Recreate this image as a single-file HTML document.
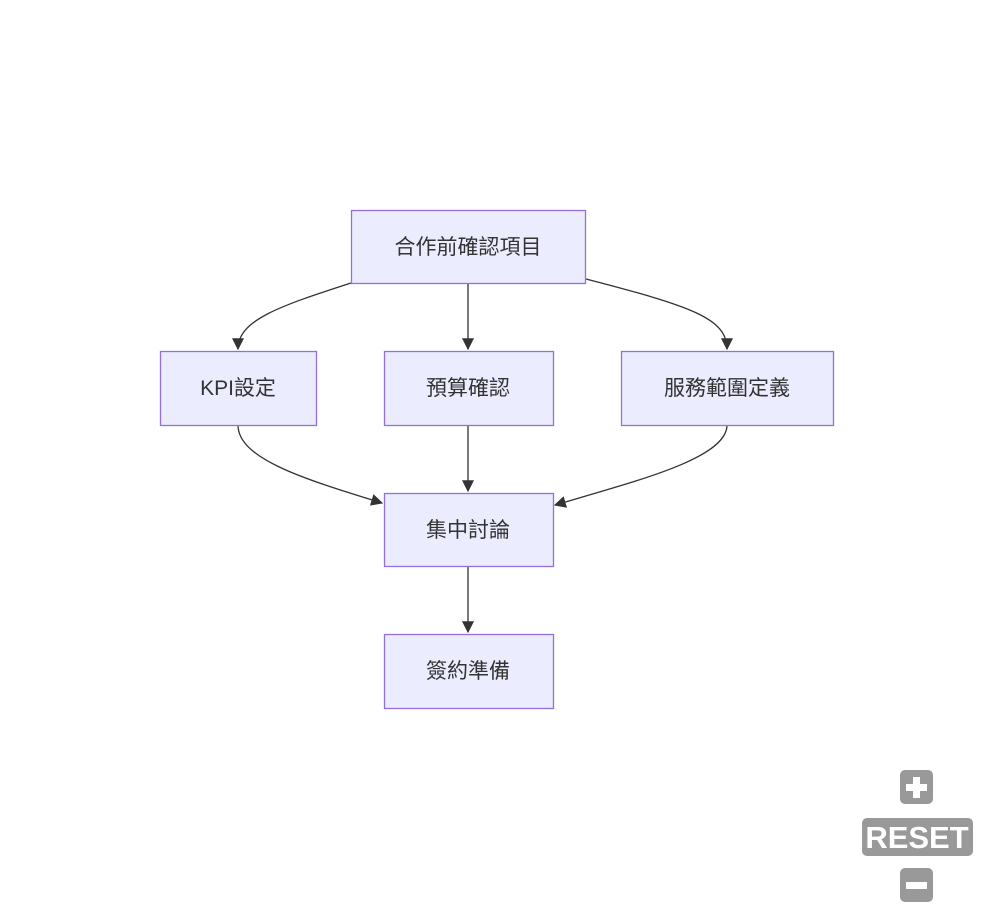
<!DOCTYPE html>
<html><head><meta charset="utf-8"><style>
html,body{margin:0;padding:0;background:#fff;width:994px;height:920px;overflow:hidden}
svg text{font-family:"Liberation Sans","Noto Sans CJK TC",sans-serif;font-size:21px;fill:#333}
</style></head><body>
<svg width="994" height="920" viewBox="0 0 994 920" xmlns="http://www.w3.org/2000/svg">
<defs><marker id="a" viewBox="0 0 10 10" refX="9" refY="5" markerWidth="12" markerHeight="12" markerUnits="userSpaceOnUse" orient="auto"><path d="M0,0L10,5L0,10z" fill="#333"/></marker></defs>
<g fill="none" stroke="#333" stroke-width="1.3">
<path d="M351,283 C280,306 238,320 238,349" marker-end="url(#a)"/>
<path d="M468,283 L468,349" marker-end="url(#a)"/>
<path d="M586,279 C690,306 727,318 727,349" marker-end="url(#a)"/>
<path d="M238,425 C238,458 300,478 382,503" marker-end="url(#a)"/>
<path d="M468,425 L468,491" marker-end="url(#a)"/>
<path d="M727,425 C727,458 640,480 555,505" marker-end="url(#a)"/>
<path d="M468,566 L468,632" marker-end="url(#a)"/>
</g>
<g fill="#ECECFF" stroke="#9370DB" stroke-width="1.3">
<rect x="351.5" y="210.5" width="234" height="73"/>
<rect x="160.5" y="351.5" width="156" height="74"/>
<rect x="384.5" y="351.5" width="169" height="74"/>
<rect x="621.5" y="351.5" width="212" height="74"/>
<rect x="384.5" y="493.5" width="169" height="73"/>
<rect x="384.5" y="634.5" width="169" height="74"/>
</g>
<g text-anchor="middle">
<text x="468" y="254">合作前確認項目</text>
<text x="238" y="395">KPI設定</text>
<text x="468" y="395">預算確認</text>
<text x="727" y="395">服務範圍定義</text>
<text x="468" y="537">集中討論</text>
<text x="468" y="678">簽約準備</text>
</g>
<g fill="#999">
<rect x="900" y="770" width="33" height="34" rx="5"/>
<rect x="862" y="818" width="111" height="38" rx="5"/>
<rect x="900" y="868" width="33" height="34" rx="5"/>
</g>
<g fill="#fff">
<rect x="906" y="784" width="21" height="7"/>
<rect x="913" y="777" width="7" height="21"/>
<rect x="906" y="882" width="21" height="7"/>
</g>
<text x="917" y="848" text-anchor="middle" style="font-size:31px;font-weight:bold;fill:#fff">RESET</text>
</svg>
</body></html>
